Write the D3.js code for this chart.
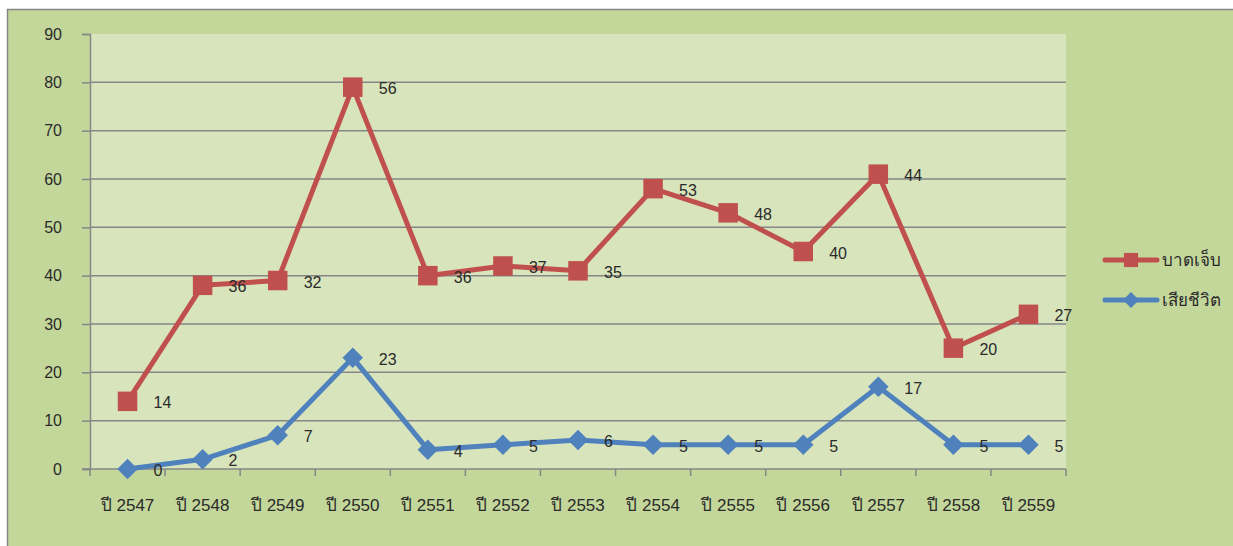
<!DOCTYPE html>
<html>
<head>
<meta charset="UTF-8">
<title>บาดเจ็บ / เสียชีวิต</title>
<script src="https://d3js.org/d3.v7.min.js"></script>
<style>
  body { margin: 0; background: #fff; }
  text { font-family: "Liberation Sans", Arial, sans-serif; fill: #2a2a2a; }
</style>
</head>
<body>
<div id="chart"></div>
<script>
// data
var years = ["ปี 2547", "ปี 2548", "ปี 2549", "ปี 2550", "ปี 2551", "ปี 2552", "ปี 2553",
             "ปี 2554", "ปี 2555", "ปี 2556", "ปี 2557", "ปี 2558", "ปี 2559"];
var injured = [14, 36, 32, 56, 36, 37, 35, 53, 48, 40, 44, 20, 27];
var dead = [0, 2, 7, 23, 4, 5, 6, 5, 5, 5, 17, 5, 5];
var yTicks = [0, 10, 20, 30, 40, 50, 60, 70, 80, 90];
var names = ["บาดเจ็บ", "เสียชีวิต"];

var width = 1233, height = 546;
var margin = {top: 34, right: 167, bottom: 77, left: 90};

var svg = d3.select("#chart").append("svg")
    .attr("width", width)
    .attr("height", height);

// outer frame + plot area
svg.append("rect")
   .attr("x", 7.5).attr("y", 9.5)
   .attr("width", 1240).attr("height", 550)
   .attr("fill", "#c4d79b")
   .attr("stroke", "#868686")
   .attr("stroke-width", 1.5);

var x = d3.scaleBand()
    .domain(years)
    .range([margin.left, width - margin.right]);
var y = d3.scaleLinear()
    .domain([0, 90])
    .range([height - margin.bottom, margin.top]);

svg.append("rect")
   .attr("x", margin.left).attr("y", margin.top)
   .attr("width", x.range()[1] - margin.left)
   .attr("height", y(0) - margin.top)
   .attr("fill", "#d8e4bc");

// gridlines
svg.append("g")
   .selectAll("line")
   .data(yTicks.slice(1, -1))
   .enter().append("line")
   .attr("x1", margin.left).attr("x2", x.range()[1])
   .attr("y1", function(d) { return y(d); })
   .attr("y2", function(d) { return y(d); })
   .attr("stroke", "#868686")
   .attr("stroke-width", 1.5);

// y axis
var yAxis = svg.append("g")
   .attr("transform", "translate(" + margin.left + ",0)")
   .call(d3.axisLeft(y).tickValues(yTicks).tickSize(8).tickPadding(20));
yAxis.selectAll("line, path").attr("stroke", "#868686").attr("stroke-width", 1.5);
yAxis.selectAll("text").attr("font-size", 16).attr("fill", "#2a2a2a")
     .attr("font-family", "Liberation Sans, Arial, sans-serif");

// x axis (ticks between categories)
var xAxis = svg.append("g")
   .attr("transform", "translate(0," + y(0) + ")");
xAxis.append("line")
   .attr("x1", margin.left - 8).attr("x2", x.range()[1])
   .attr("stroke", "#868686").attr("stroke-width", 1.5);
xAxis.selectAll(".tk")
   .data(d3.range(years.length + 1))
   .enter().append("line")
   .attr("class", "tk")
   .attr("x1", function(i) { return margin.left + i * x.bandwidth(); })
   .attr("x2", function(i) { return margin.left + i * x.bandwidth(); })
   .attr("y1", 0).attr("y2", 7)
   .attr("stroke", "#868686").attr("stroke-width", 1.5);
xAxis.selectAll(".lbl")
   .data(years)
   .enter().append("text")
   .attr("class", "lbl")
   .attr("x", function(d) { return x(d) + x.bandwidth() / 2; })
   .attr("y", 42)
   .attr("text-anchor", "middle")
   .attr("font-size", 17)
   .text(function(d) { return d; });

// stacked line values
var stackedInjured = injured.map(function(v, i) { return v + dead[i]; });

var line = d3.line()
    .x(function(d, i) { return x(years[i]) + x.bandwidth() / 2; })
    .y(function(d) { return y(d); });

var series = [
  {name: names[0], values: stackedInjured, labels: injured, color: "#c0504d", size: 380, rot: 0},
  {name: names[1], values: dead, labels: dead, color: "#4f81bd", size: 210, rot: 45}
];

// draw blue first so red sits above
series.slice().reverse().forEach(function(s) {
  var g = svg.append("g");
  g.append("path")
   .attr("d", line(s.values))
   .attr("fill", "none")
   .attr("stroke", s.color)
   .attr("stroke-width", 5)
   .attr("stroke-linejoin", "round");
  g.selectAll("path.m")
   .data(s.values)
   .enter().append("path")
   .attr("class", "m")
   .attr("d", d3.symbol().type(d3.symbolSquare).size(s.size))
   .attr("transform", function(d, i) {
     return "translate(" + (x(years[i]) + x.bandwidth() / 2) + "," + y(d) + ") rotate(" + s.rot + ")";
   })
   .attr("fill", s.color);
  g.selectAll("text")
   .data(s.values)
   .enter().append("text")
   .attr("x", function(d, i) { return x(years[i]) + x.bandwidth() / 2 + 26; })
   .attr("y", function(d) { return y(d) + 7; })
   .attr("font-size", 16)
   .text(function(d, i) { return s.labels[i]; });
});

// legend
var legend = svg.append("g");
series.forEach(function(s, i) {
  var ly = 260 + i * 40;
  legend.append("line")
     .attr("x1", 1105).attr("x2", 1157)
     .attr("y1", ly).attr("y2", ly)
     .attr("stroke", s.color).attr("stroke-width", 5)
     .attr("stroke-linecap", "round");
  legend.append("path")
     .attr("d", d3.symbol().type(d3.symbolSquare).size(i === 0 ? 200 : 130))
     .attr("transform", "translate(1131," + ly + ") rotate(" + s.rot + ")")
     .attr("fill", s.color);
  legend.append("text")
     .attr("x", 1162).attr("y", ly + 6)
     .attr("font-size", 17)
     .text(s.name);
});
</script>
</body>
</html>
